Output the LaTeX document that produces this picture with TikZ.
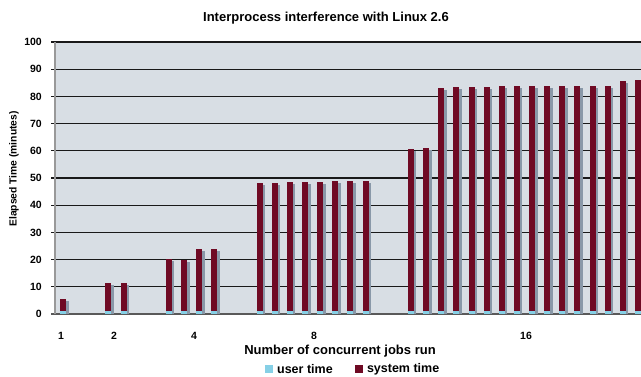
\documentclass[tikz,border=0pt]{standalone}
\usepackage{fontspec}
\setmainfont{Liberation Sans}
\usepackage{xcolor}
\usetikzlibrary{positioning}

\definecolor{sysred}{HTML}{6F0A24}
\definecolor{usercyan}{HTML}{86D0E6}
\definecolor{plotbg}{HTML}{D8DEE4}
\definecolor{barshade}{HTML}{8998A8}

\tikzset{
	gridline/.style = {line width=1.3pt, black!90},
	ticklab/.style = {font=\bfseries\fontsize{10.5}{12}\selectfont, inner sep=1pt},
	biglab/.style = {font=\bfseries\fontsize{13}{15}\selectfont, inner sep=0pt},
	keybox/.style = {minimum size=7.5pt, inner sep=0pt}
}

\begin{document}
\begin{tikzpicture} [x=1pt, y=1pt]
			\useasboundingbox (0,0) rectangle (641,376);
			\clip (0,0) rectangle (641,376);
			
			\begin{scope}[shift={(55,62)}, y=2.72pt]
				\fill [plotbg] (0,0) rectangle (590,100);
				
				% grid and axis
				\foreach \g in {10,20,...,100}
				\draw [gridline] (-4,\g) -- (590,\g);
				\draw [line width=1.3pt, black!65] (-4,0) -- (590,0);
				\draw [line width=1.5pt, black!40] (0,0) -- (0,100);
				
				\foreach \g in {0,10,...,100}
				\node [ticklab, anchor=east] (yt\g) at (-12,\g) {\g};
				
				% bars: slot / minutes
				\foreach \s/\v in {0/5.5, 3/11.3, 4/11.3, 7/20.1, 8/20.0, 9/23.9, 10/23.9,
					13/48.3, 14/48.3, 15/48.5, 16/48.6, 17/48.6, 18/48.9, 19/48.9, 20/49.0,
					23/60.8, 24/61.0, 25/83.1, 26/83.3, 27/83.3, 28/83.4, 29/83.7, 30/83.7,
					31/83.8, 32/83.8, 33/83.9, 34/83.9, 35/83.9, 36/83.9, 37/85.7, 38/86.0}
				{
					\pgfmathsetmacro\bx{8+15.13*\s}
					\fill [barshade] (\bx-0.5,0) rectangle (\bx+5.5,\v-0.7);
					\fill [usercyan] (\bx-3,0) rectangle (\bx+3,1.2);
					\fill [sysred] (\bx-3,1.2) rectangle (\bx+3,\v);
				}
			\end{scope}
			
			\node [biglab] (title) at (326,358) {Interprocess interference with Linux 2.6};
			\node [font=\bfseries\fontsize{10.3}{12}\selectfont, inner sep=0pt, rotate=90] (ylab) at (14,207) {Elapsed Time (minutes)};
			
			\node [ticklab] (xt1) at (61,40) {1};
			\node [ticklab] (xt2) at (114,40) {2};
			\node [ticklab] (xt4) at (194,40) {4};
			\node [ticklab] (xt8) at (314,40) {8};
			\node [ticklab] (xt16) at (526,40) {16};
			
			\node [biglab] (xlab) at (340,25) {Number of concurrent jobs run};
			
			% legend
			\node [keybox, fill=usercyan] (userkey) at (269,7) {};
			\node [biglab, font=\bfseries\fontsize{12.5}{14}\selectfont, right=4pt of userkey] (userlab) {user time};
			\node [keybox, fill=sysred, right=22pt of userlab] (syskey) {};
			\node [biglab, font=\bfseries\fontsize{12.5}{14}\selectfont, right=4pt of syskey] (syslab) {system time};
		\end{tikzpicture}
\end{document}
